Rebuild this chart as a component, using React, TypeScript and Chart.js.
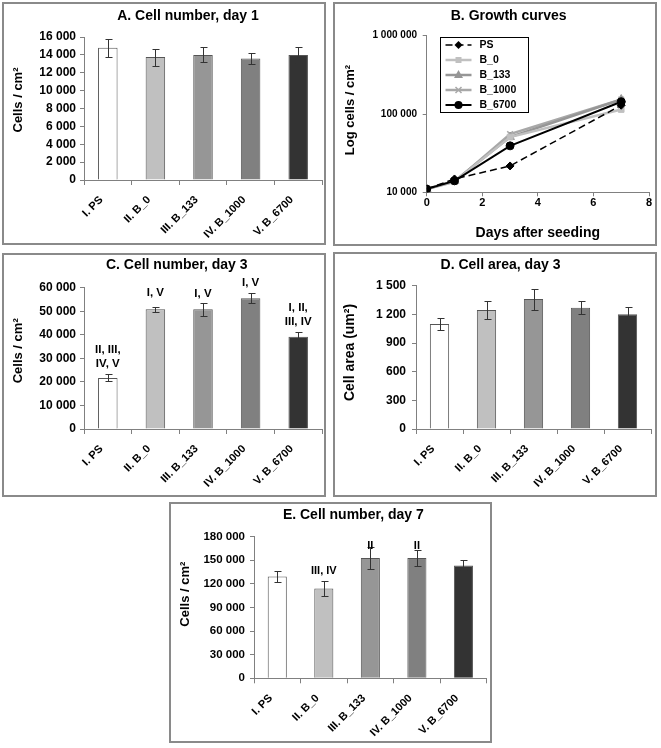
import React, { useEffect, useRef } from 'react';
import { Chart, registerables } from 'chart.js';

Chart.register(...registerables);

// ---------------- data ----------------
const categories = ['I. PS', 'II. B_0', 'III. B_133', 'IV. B_1000', 'V. B_6700'];
const seriesNames = ['PS', 'B_0', 'B_133', 'B_1000', 'B_6700'];

const day0Values = [11000, 11000, 11000, 11000, 11000];
const day1Values = [14800, 13750, 14000, 13600, 14000];
const day1Errors = [1000, 950, 850, 650, 870];
const day3Values = [21700, 50800, 50800, 55500, 39200];
const day3Errors = [1500, 1000, 2900, 2100, 2200];
const day3Sig = [['II, III,', 'IV, V'], ['I, V'], ['I, V'], ['I, V'], ['I, II,', 'III, IV']];
const areaValues = [1100, 1245, 1360, 1270, 1200];
const areaErrors = [60, 90, 110, 70, 78];
const day7Values = [129500, 114000, 153000, 153000, 143500];
const day7Errors = [6500, 10000, 13500, 10000, 6400];
const day7Sig = [[], ['III, IV'], ['II'], ['II'], []];
const days = [0, 1, 3, 7];
const logTicks = [10000, 100000, 1000000];

const barColors = ['#ffffff', '#c0c0c0', '#969696', '#808080', '#333333'];

// ---------------- helpers ----------------
const FONT = "'Liberation Sans', Arial, Helvetica, sans-serif";
const fmt = (v: number) => String(Math.round(v)).replace(/\B(?=(\d{3})+(?!\d))/g, ' ');
const AXIS = '#808080';

type TitleSpec = { text: string; x: number; y: number; size: number; rot?: boolean };

function titlesPlugin(titles: TitleSpec[]) {
  return {
    id: 'customTitles',
    afterDraw(chart: any) {
      const ctx = chart.ctx;
      titles.forEach((t) => {
        ctx.save();
        ctx.font = `bold ${t.size}px ${FONT}`;
        ctx.fillStyle = '#000';
        ctx.textAlign = 'center';
        ctx.textBaseline = 'middle';
        ctx.translate(t.x, t.y);
        if (t.rot) ctx.rotate(-Math.PI / 2);
        ctx.fillText(t.text, 0, 0);
        ctx.restore();
      });
    },
  };
}

const errorBarPlugin = {
  id: 'errorBars',
  afterDatasetsDraw(chart: any) {
    const ds = chart.data.datasets[0];
    const errs = ds.errors as number[];
    if (!errs) return;
    const meta = chart.getDatasetMeta(0);
    const y = chart.scales.y;
    const ctx = chart.ctx;
    ctx.save();
    ctx.strokeStyle = '#333';
    ctx.lineWidth = 1;
    meta.data.forEach((bar: any, i: number) => {
      const v = ds.data[i];
      const e = errs[i];
      const x = Math.round(bar.x) + 0.5;
      const t = Math.round(y.getPixelForValue(v + e)) + 0.5;
      const b = Math.round(y.getPixelForValue(v - e)) + 0.5;
      ctx.beginPath();
      ctx.moveTo(x, t);
      ctx.lineTo(x, b);
      ctx.moveTo(x - 3, t);
      ctx.lineTo(x + 4, t);
      ctx.moveTo(x - 3, b);
      ctx.lineTo(x + 4, b);
      ctx.stroke();
    });
    ctx.restore();
  },
};

function sigPlugin(labels: string[][], gaps: number[], size: number, lh: number) {
  return {
    id: 'sigLabels',
    afterDatasetsDraw(chart: any) {
      const ds = chart.data.datasets[0];
      const meta = chart.getDatasetMeta(0);
      const y = chart.scales.y;
      const ctx = chart.ctx;
      ctx.save();
      ctx.font = `bold ${size}px ${FONT}`;
      ctx.fillStyle = '#000';
      ctx.textAlign = 'center';
      ctx.textBaseline = 'middle';
      labels.forEach((lines, i) => {
        if (!lines.length) return;
        const top = y.getPixelForValue(ds.data[i] + ds.errors[i]);
        lines.forEach((line, k) => {
          const cy = top - gaps[i] - (lines.length - 1 - k) * lh;
          ctx.fillText(line, meta.data[i].x, cy);
        });
      });
      ctx.restore();
    },
  };
}

type BarSpec = {
  x: number; y: number; w: number; h: number;
  title: string; titleX: number; titleY: number;
  yTitle: string; yTitleSize: number; yTitleX: number; yTitleY: number;
  yWidth: number; yTickPad: number; tickSize: number;
  max: number; step: number;
  xHeight: number;
  top: number; padRight: number;
  values: number[]; errors: number[];
  sig?: string[][]; sigGaps?: number[]; sigSize?: number; sigLh?: number;
};

function Box({ x, y, w, h }: { x: number; y: number; w: number; h: number }) {
  return (
    <div
      style={{
        position: 'absolute', left: x, top: y, width: w, height: h,
        border: '2px solid #8a8a8a', boxSizing: 'border-box', pointerEvents: 'none',
      }}
    />
  );
}

function BarPanel({ s }: { s: BarSpec }) {
  const ref = useRef<HTMLCanvasElement>(null);
  useEffect(() => {
    const plugins: any[] = [
      titlesPlugin([
        { text: s.title, x: s.titleX, y: s.titleY, size: 14 },
        { text: s.yTitle, x: s.yTitleX, y: s.yTitleY, size: s.yTitleSize, rot: true },
      ]),
      errorBarPlugin,
    ];
    if (s.sig) plugins.push(sigPlugin(s.sig, s.sigGaps || [10, 10, 10, 10, 10], s.sigSize || 11, s.sigLh || 14));
    const chart = new Chart(ref.current!, {
      type: 'bar',
      data: {
        labels: categories,
        datasets: [
          {
            data: s.values,
            errors: s.errors,
            backgroundColor: barColors,
            borderColor: '#555555',
            borderWidth: 1,
            barPercentage: 0.41,
            categoryPercentage: 1,
          } as any,
        ],
      },
      options: {
        responsive: false,
        animation: false,
        devicePixelRatio: 1,
        layout: { padding: { left: 0, right: s.padRight, top: s.top, bottom: 0 } },
        plugins: { legend: { display: false }, tooltip: { enabled: false }, title: { display: false } },
        scales: {
          x: {
            grid: { offset: true, drawOnChartArea: false, tickLength: 5, color: AXIS },
            border: { color: AXIS },
            ticks: {
              minRotation: 45, maxRotation: 45, autoSkip: false, padding: 2,
              color: '#000', font: { family: FONT, size: 11, weight: 'bold' },
              callback: (_v: any, i: number) => categories[i] + '   ',
            },
            afterFit: (sc: any) => { sc.height = s.xHeight; },
          },
          y: {
            min: 0, max: s.max,
            grid: { drawOnChartArea: false, tickLength: 4, color: AXIS },
            border: { color: AXIS },
            ticks: {
              stepSize: s.step, padding: s.yTickPad, color: '#000',
              font: { family: FONT, size: s.tickSize, weight: 'bold' },
              callback: (v: any) => fmt(Number(v)),
            },
            afterFit: (sc: any) => { sc.width = s.yWidth; },
          },
        },
      } as any,
      plugins,
    });
    return () => chart.destroy();
  }, []);
  return (
    <>
      <canvas ref={ref} width={s.w} height={s.h}
        style={{ position: 'absolute', left: s.x, top: s.y, width: s.w, height: s.h }} />
      <Box x={s.x} y={s.y} w={s.w} h={s.h} />
    </>
  );
}

// ---------------- growth curves ----------------
const lineStyles = [
  { color: '#000000', dash: [7, 4], width: 1.5, point: 'rectRot', r: 4 },
  { color: '#c0c0c0', dash: [], width: 2.5, point: 'rect', r: 4 },
  { color: '#969696', dash: [], width: 2.5, point: 'triangle', r: 5 },
  { color: '#a8a8a8', dash: [], width: 2.5, point: 'crossRot', r: 4 },
  { color: '#000000', dash: [], width: 2, point: 'circle', r: 4 },
];
const drawOrder = [1, 2, 3, 4, 0];

function drawMarker(ctx: CanvasRenderingContext2D, style: string, x: number, y: number, r: number) {
  ctx.beginPath();
  if (style === 'rectRot') {
    ctx.moveTo(x, y - r); ctx.lineTo(x + r, y); ctx.lineTo(x, y + r); ctx.lineTo(x - r, y); ctx.closePath(); ctx.fill();
  } else if (style === 'rect') {
    const h = r * 0.75; ctx.rect(x - h, y - h, 2 * h, 2 * h); ctx.fill();
  } else if (style === 'triangle') {
    ctx.moveTo(x, y - r); ctx.lineTo(x + r * 0.9, y + r * 0.6); ctx.lineTo(x - r * 0.9, y + r * 0.6); ctx.closePath(); ctx.fill();
  } else if (style === 'crossRot') {
    const h = r * 0.75;
    ctx.lineWidth = 1.5;
    ctx.moveTo(x - h, y - h); ctx.lineTo(x + h, y + h); ctx.moveTo(x + h, y - h); ctx.lineTo(x - h, y + h); ctx.stroke();
  } else {
    ctx.arc(x, y, r, 0, Math.PI * 2); ctx.fill();
  }
}

const legendPlugin = {
  id: 'growthLegend',
  afterDraw(chart: any) {
    const ctx = chart.ctx as CanvasRenderingContext2D;
    const a = chart.chartArea;
    const bx = Math.round(a.left + 13) + 0.5;
    const by = Math.round(a.top + 1) + 0.5;
    const bw = 88;
    const bh = 75;
    ctx.save();
    ctx.fillStyle = '#fff';
    ctx.fillRect(bx, by, bw, bh);
    ctx.strokeStyle = '#000';
    ctx.lineWidth = 1;
    ctx.strokeRect(bx, by, bw, bh);
    const rowH = bh / seriesNames.length;
    seriesNames.forEach((name, i) => {
      const st = lineStyles[i];
      const cy = by + rowH * (i + 0.5);
      ctx.strokeStyle = st.color;
      ctx.fillStyle = st.color;
      ctx.lineWidth = st.width;
      ctx.setLineDash(st.dash);
      ctx.beginPath();
      ctx.moveTo(bx + 5, cy);
      ctx.lineTo(bx + 31, cy);
      ctx.stroke();
      ctx.setLineDash([]);
      drawMarker(ctx, st.point, bx + 18, cy, st.r);
      ctx.fillStyle = '#000';
      ctx.font = `bold 10.5px ${FONT}`;
      ctx.textAlign = 'left';
      ctx.textBaseline = 'middle';
      ctx.fillText(name, bx + 39, cy);
    });
    ctx.restore();
  },
};

function GrowthPanel() {
  const ref = useRef<HTMLCanvasElement>(null);
  const X = 333, Y = 2, W = 324, H = 244;
  useEffect(() => {
    const byDay = [day0Values, day1Values, day3Values, day7Values];
    const datasets = seriesNames.map((name, i) => ({
      label: name,
      data: days.map((d, k) => ({ x: d, y: byDay[k][i] })),
      borderColor: lineStyles[i].color,
      backgroundColor: lineStyles[i].color,
      borderWidth: lineStyles[i].width,
      borderDash: lineStyles[i].dash,
      pointStyle: lineStyles[i].point,
      pointRadius: lineStyles[i].r,
      pointBorderWidth: lineStyles[i].point === 'crossRot' ? 1.5 : 1,
      pointBackgroundColor: lineStyles[i].color,
      pointBorderColor: lineStyles[i].color,
      order: drawOrder[i],
      tension: 0,
    }));
    const chart = new Chart(ref.current!, {
      type: 'line',
      data: { datasets },
      options: {
        responsive: false,
        animation: false,
        devicePixelRatio: 1,
        layout: { padding: { left: 0, right: 8, top: 33.7, bottom: 0 } },
        plugins: { legend: { display: false }, tooltip: { enabled: false }, title: { display: false } },
        scales: {
          x: {
            type: 'linear', min: 0, max: 8,
            grid: { drawOnChartArea: false, tickLength: 4, color: AXIS },
            border: { color: AXIS },
            ticks: { stepSize: 2, padding: 0, color: '#000', font: { family: FONT, size: 11, weight: 'bold' } },
            title: {
              display: true, text: 'Days after seeding', color: '#000',
              font: { family: FONT, size: 14, weight: 'bold' }, padding: { top: 0, bottom: 4.6 },
            },
            afterFit: (sc: any) => { sc.height = 53.7; },
          },
          y: {
            type: 'logarithmic', min: 10000, max: 1000000,
            grid: { drawOnChartArea: false, tickLength: 4, color: AXIS },
            border: { color: AXIS },
            afterBuildTicks: (sc: any) => { sc.ticks = logTicks.map((v) => ({ value: v })); },
            ticks: {
              padding: 5.7, color: '#000', font: { family: FONT, size: 10, weight: 'bold' },
              callback: (v: any) => fmt(Number(v)),
            },
            afterFit: (sc: any) => { sc.width = 93.7; },
          },
        },
      } as any,
      plugins: [
        titlesPlugin([
          { text: 'B. Growth curves', x: 175.7, y: 14, size: 14 },
          { text: 'Log cells / cm²', x: 17, y: 108, size: 13, rot: true },
        ]),
        legendPlugin,
      ],
    });
    return () => chart.destroy();
  }, []);
  return (
    <>
      <canvas ref={ref} width={W} height={H} style={{ position: 'absolute', left: X, top: Y, width: W, height: H }} />
      <Box x={X} y={Y} w={W} h={H} />
    </>
  );
}

// ---------------- panels ----------------
const panelA: BarSpec = {
  x: 2, y: 2, w: 324, h: 243,
  title: 'A. Cell number, day 1', titleX: 186, titleY: 13.7,
  yTitle: 'Cells / cm²', yTitleSize: 13, yTitleX: 16, yTitleY: 98,
  yWidth: 82, yTickPad: 4, tickSize: 12,
  max: 16000, step: 2000,
  xHeight: 65,
  top: 35, padRight: 4,
  values: day1Values, errors: day1Errors,
};
const panelC: BarSpec = {
  x: 2, y: 253, w: 324, h: 244,
  title: 'C. Cell number, day 3', titleX: 174.7, titleY: 12,
  yTitle: 'Cells / cm²', yTitleSize: 13, yTitleX: 16.3, yTitleY: 97.8,
  yWidth: 82, yTickPad: 4, tickSize: 12,
  max: 60000, step: 10000,
  xHeight: 68,
  top: 34.7, padRight: 4,
  values: day3Values, errors: day3Errors,
  sig: day3Sig, sigGaps: [11, 14, 9, 10.5, 10], sigSize: 11.5, sigLh: 13.5,
};
const panelD: BarSpec = {
  x: 333, y: 252, w: 324, h: 245,
  title: 'D. Cell area, day 3', titleX: 167.5, titleY: 13,
  yTitle: 'Cell area (um²)', yTitleSize: 14, yTitleX: 17, yTitleY: 100.5,
  yWidth: 83, yTickPad: 6, tickSize: 12,
  max: 1500, step: 300,
  xHeight: 68,
  top: 33.7, padRight: 6,
  values: areaValues, errors: areaErrors,
};
const panelE: BarSpec = {
  x: 169, y: 502, w: 323, h: 241,
  title: 'E. Cell number, day 7', titleX: 184.3, titleY: 13,
  yTitle: 'Cells / cm²', yTitleSize: 13, yTitleX: 16, yTitleY: 92.2,
  yWidth: 85, yTickPad: 5, tickSize: 11.5,
  max: 180000, step: 30000,
  xHeight: 64.7,
  top: 34.7, padRight: 5.3,
  values: day7Values, errors: day7Errors,
  sig: day7Sig, sigGaps: [10, 10, 1, 4, 10], sigSize: 11, sigLh: 14,
};

export default function App() {
  return (
    <div style={{ position: 'absolute', left: 0, top: 0, width: 661, height: 748, background: '#fff', overflow: 'hidden' }}>
      <BarPanel s={panelA} />
      <GrowthPanel />
      <BarPanel s={panelC} />
      <BarPanel s={panelD} />
      <BarPanel s={panelE} />
    </div>
  );
}
